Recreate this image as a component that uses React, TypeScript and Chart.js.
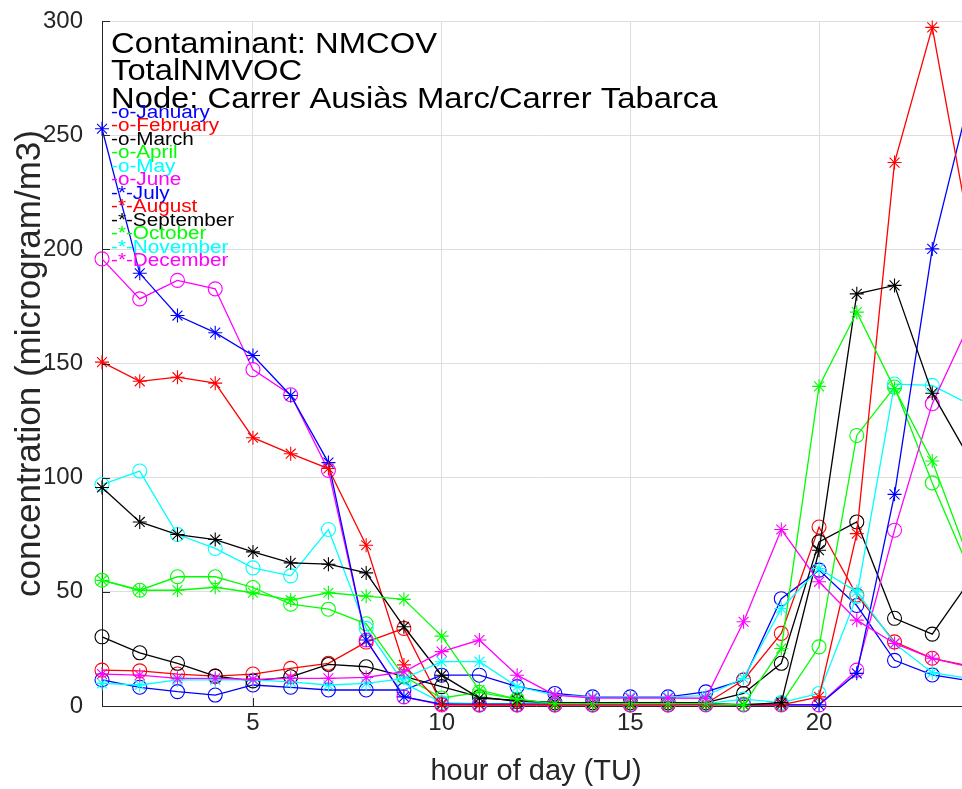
import { useEffect, useRef } from "react";
import { Chart, registerables } from "chart.js";

Chart.register(...registerables);

// Hour of day (TU)
const HOURS = [1, 2, 3, 4, 5, 6, 7, 8, 9, 10, 11, 12, 13, 14, 15, 16, 17, 18, 19, 20, 21, 22, 23, 24];

// Monthly mean TotalNMVOC concentration (microgram/m3) per hour
const JANUARY = [11.4, 8.2, 6.3, 4.8, 9.2, 8.2, 7, 7, 7, 13.5, 13.5, 8.5, 5.5, 4, 4, 4, 6.2, 11.4, 47, 59.5, 44, 20, 13.6, 11];
const FEBRUARY = [15.7, 15.4, 14, 13.1, 14, 16.5, 18.7, 28, 34, 1, 0.5, 0.5, 0.5, 0.5, 0.5, 0.5, 1, 11.4, 31.8, 78.4, 48.6, 28.1, 20.9, 17.5];
const MARCH = [30.3, 23.3, 18.7, 13.1, 11, 12.8, 18.2, 17.2, 13, 8.5, 4, 2, 1.5, 1.5, 1.5, 1.5, 1.5, 5.5, 18.7, 71.9, 80.6, 38.4, 31.5, 55];
const APRIL = [55.1, 50.7, 56.6, 56.6, 51.9, 44.6, 42.4, 36, 13, 3.5, 6, 3, 0.8, 0.8, 0.8, 0.8, 0.8, 0.8, 1, 25.9, 118.5, 139.7, 97.7, 59];
const MAY = [97, 102.9, 75.1, 69, 60.5, 57, 77.3, 34, 10, 1.5, 1, 1, 0.8, 0.8, 0.8, 0.8, 1, 3, 1.5, 5.5, 48, 141, 140.4, 132];
const JUNE = [195.8, 178.3, 186.4, 182.7, 147.3, 136.3, 103.2, 28.9, 4, 0.5, 0.5, 0.5, 0.5, 0.5, 0.5, 0.5, 0.5, 0.5, 0.5, 0.5, 15.7, 77, 132.4, 168];
const JULY = [252.8, 189.5, 171, 163.5, 153.5, 136, 106.6, 28.9, 4, 0.8, 0.8, 0.8, 0.8, 0.8, 0.8, 0.8, 0.8, 0.5, 0.5, 0.5, 14.3, 92.7, 200.2, 267];
const AUGUST = [150.6, 142.2, 144, 141.4, 117.5, 110.5, 104, 70.4, 18, 0.5, 0.5, 0.5, 0.5, 0.5, 0.5, 0.5, 0.5, 0.5, 0.5, 4, 75.5, 238, 297.2, 207];
const SEPTEMBER = [95.7, 80.6, 75.1, 72.9, 67.5, 62.7, 62.1, 58.3, 34.7, 13.5, 3.5, 2.5, 1.5, 1.5, 1.2, 1.2, 1, 0.5, 1.5, 68.2, 180.5, 184.2, 137, 108];
const OCTOBER = [55, 50.7, 50.7, 52, 49.6, 46.4, 49.6, 48.1, 46.7, 30.6, 7, 3, 1, 1, 1, 1, 1, 0.4, 25.2, 140, 172.5, 139, 107.3, 63];
const NOVEMBER = [9.9, 9.2, 11.4, 11.4, 11.4, 10.6, 9.2, 9.9, 12, 19.4, 19.4, 8.5, 4.8, 4, 4, 4, 4.5, 12.1, 42.7, 60.2, 50, 27.4, 14.6, 12];
const DECEMBER = [14, 13.5, 12.1, 12.1, 11.7, 12.1, 12.1, 12.5, 15, 23.8, 28.9, 13.5, 4.8, 3.5, 3.5, 3.5, 3.4, 36.9, 77.3, 54.4, 37.6, 27.4, 20.9, 17];

const SERIES = [JANUARY, FEBRUARY, MARCH, APRIL, MAY, JUNE, JULY, AUGUST, SEPTEMBER, OCTOBER, NOVEMBER, DECEMBER];
const MONTHS = ["January", "February", "March", "April", "May", "June", "July", "August", "September", "October", "November", "December"];
const MARKERS = ["o", "o", "o", "o", "o", "o", "*", "*", "*", "*", "*", "*"];
const COLORS = ["#0000ff", "#ff0000", "#000000", "#00ff00", "#00ffff", "#ff00ff", "#0000ff", "#ff0000", "#000000", "#00ff00", "#00ffff", "#ff00ff"];

const TITLE_LINES = ["Contaminant: NMCOV", "TotalNMVOC", "Node: Carrer Ausiàs Marc/Carrer Tabarca"];
const X_TICKS = [5, 10, 15, 20];
const Y_MIN = 0;
const Y_MAX = 300;
const Y_STEP = 50;

const FONT = '"Liberation Sans", Arial, Helvetica, sans-serif';
const AXIS_COLOR = "#262626";

function stretchedText(ctx: CanvasRenderingContext2D, text: string, x: number, y: number, sx: number) {
  ctx.save();
  ctx.translate(x, y);
  ctx.scale(sx, 1);
  ctx.fillText(text, 0, 0);
  ctx.restore();
}

// Title block and the coloured month key written inside the axes
const textBlock = {
  id: "textBlock",
  afterDatasetsDraw(chart: any) {
    const ctx: CanvasRenderingContext2D = chart.ctx;
    ctx.save();
    ctx.textAlign = "left";
    ctx.textBaseline = "alphabetic";
    ctx.font = `29px ${FONT}`;
    ctx.fillStyle = "#000000";
    TITLE_LINES.forEach((line, i) => stretchedText(ctx, line, 111, 53 + i * 27.4, 1.13));
    ctx.font = `18px ${FONT}`;
    MONTHS.forEach((m, i) => {
      ctx.fillStyle = COLORS[i];
      stretchedText(ctx, `-${MARKERS[i]}-${m}`, 111, 118 + i * 13.45, 1.15);
    });
    ctx.restore();
  },
};

// Short inward tick marks on the left and bottom axes
const inwardTicks = {
  id: "inwardTicks",
  afterDraw(chart: any) {
    const ctx: CanvasRenderingContext2D = chart.ctx;
    const { left, bottom } = chart.chartArea;
    const xs = chart.scales.x;
    const ys = chart.scales.y;
    ctx.save();
    ctx.strokeStyle = AXIS_COLOR;
    ctx.lineWidth = 1;
    ctx.beginPath();
    ys.ticks.forEach((t: any) => {
      const y = Math.round(ys.getPixelForValue(t.value)) + 0.5;
      ctx.moveTo(left, y);
      ctx.lineTo(left + 8, y);
    });
    xs.ticks.forEach((t: any) => {
      const x = Math.round(xs.getPixelForValue(t.value)) + 0.5;
      ctx.moveTo(x, bottom);
      ctx.lineTo(x, bottom - 8);
    });
    ctx.stroke();
    ctx.restore();
  },
};

export default function App() {
  const ref = useRef<HTMLCanvasElement | null>(null);

  useEffect(() => {
    if (!ref.current) return;
    const datasets = SERIES.map((values, i) => ({
      label: `-${MARKERS[i]}-${MONTHS[i]}`,
      data: HOURS.map((h, j) => ({ x: h, y: values[j] })),
      borderColor: COLORS[i],
      backgroundColor: "rgba(0,0,0,0)",
      pointBorderColor: COLORS[i],
      pointBackgroundColor: "rgba(0,0,0,0)",
      pointStyle: MARKERS[i] === "o" ? "circle" : "star",
      pointRadius: 7,
      pointBorderWidth: 1.1,
      borderWidth: 1.3,
      tension: 0,
      clip: false as any,
      order: SERIES.length - i,
    }));

    const chart = new Chart(ref.current, {
      type: "line",
      data: { datasets },
      options: {
        animation: false,
        responsive: false,
        devicePixelRatio: 1,
        layout: { padding: { left: 0, top: 21, right: 10, bottom: 0 } },
        plugins: { legend: { display: false }, tooltip: { enabled: false }, title: { display: false } },
        scales: {
          x: {
            type: "linear",
            min: HOURS[0],
            max: HOURS[HOURS.length - 1],
            afterBuildTicks: (scale: any) => {
              scale.ticks = X_TICKS.map((v) => ({ value: v }));
            },
            afterFit: (scale: any) => {
              scale.height = 83;
              scale.paddingLeft = 0;
              scale.paddingRight = 0;
            },
            grid: { color: "#dedede", lineWidth: 1, drawTicks: false },
            border: { display: true, color: AXIS_COLOR, width: 1 },
            ticks: { color: AXIS_COLOR, font: { family: FONT, size: 24 }, padding: 3, autoSkip: false, maxRotation: 0 },
            title: {
              display: true,
              text: "hour of day (TU)",
              color: AXIS_COLOR,
              font: { family: FONT, size: 29, lineHeight: 1.2 },
              padding: { top: 0, bottom: 0 },
            },
          },
          y: {
            type: "linear",
            min: Y_MIN,
            max: Y_MAX,
            ticks: { stepSize: Y_STEP, color: AXIS_COLOR, font: { family: FONT, size: 24 }, padding: 19 },
            afterFit: (scale: any) => {
              scale.width = 102;
              scale.paddingTop = 0;
              scale.paddingBottom = 0;
            },
            grid: { color: "#dedede", lineWidth: 1, drawTicks: false },
            border: { display: true, color: AXIS_COLOR, width: 1 },
            title: {
              display: true,
              text: "concentration (microgram/m3)",
              color: AXIS_COLOR,
              font: { family: FONT, size: 35, lineHeight: 1.2 },
              padding: { top: 9, bottom: 0 },
            },
          },
        },
      },
      plugins: [textBlock, inwardTicks],
    });
    return () => chart.destroy();
  }, []);

  return (
    <div style={{ position: "fixed", left: 0, top: 0, width: 962, height: 789, overflow: "hidden", background: "#ffffff" }}>
      <canvas ref={ref} width={980} height={789} style={{ display: "block" }} />
    </div>
  );
}
